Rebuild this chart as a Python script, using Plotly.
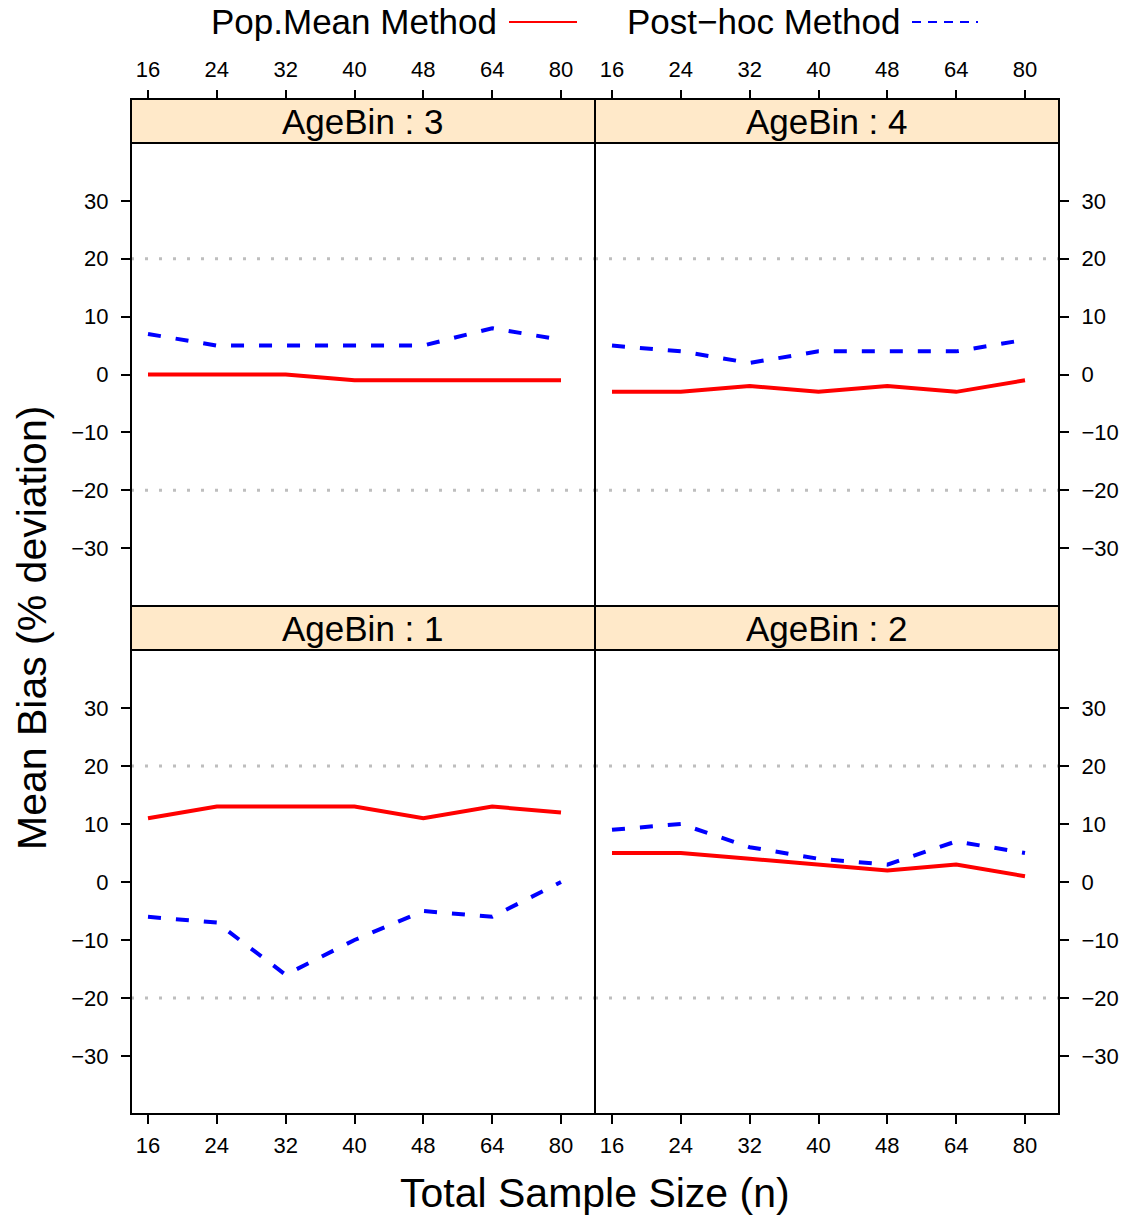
import plotly.graph_objects as go

# ---------------- data ----------------
sample_sizes = ["16", "24", "32", "40", "48", "64", "80"]
panels = ["AgeBin : 3", "AgeBin : 4", "AgeBin : 1", "AgeBin : 2"]

pop_mean_bin3 = [0, 0, 0, -1, -1, -1, -1]
posthoc_bin3 = [7, 5, 5, 5, 5, 8, 6]
pop_mean_bin4 = [-3, -3, -2, -3, -2, -3, -1]
posthoc_bin4 = [5, 4, 2, 4, 4, 4, 6]
pop_mean_bin1 = [11, 13, 13, 13, 11, 13, 12]
posthoc_bin1 = [-6, -7, -16, -10, -5, -6, 0]
pop_mean_bin2 = [5, 5, 4, 3, 2, 3, 1]
posthoc_bin2 = [9, 10, 6, 4, 3, 7, 5]

y_ticks = [-30, -20, -10, 0, 10, 20, 30]
ref_lines = [-20, 20]

# ---------------- layout helpers ----------------
W, H = 1130, 1219
FONT = "Liberation Sans, Arial, sans-serif"


def px(x):
    return x / W


def py(y):
    return 1 - y / H


col_x = [(131, 595), (595, 1059)]
row_y = [(143, 606), (650, 1114)]
strip_y = [(99, 143), (606, 650)]

pop_series = [pop_mean_bin3, pop_mean_bin4, pop_mean_bin1, pop_mean_bin2]
post_series = [posthoc_bin3, posthoc_bin4, posthoc_bin1, posthoc_bin2]

fig = go.Figure()
shapes = []
annotations = []

for i in range(4):
    r, c = divmod(i, 2)
    sfx = "" if i == 0 else str(i + 1)
    xa, ya = "x" + sfx, "y" + sfx
    fig.add_trace(go.Scatter(x=sample_sizes, y=pop_series[i], mode="lines",
                             line=dict(color="#FF0000", width=4),
                             xaxis=xa, yaxis=ya, showlegend=False))
    fig.add_trace(go.Scatter(x=sample_sizes, y=post_series[i], mode="lines",
                             line=dict(color="#0000FF", width=4, dash="13px,15px"),
                             xaxis=xa, yaxis=ya, showlegend=False))

    x0, x1 = col_x[c]
    y0, y1 = row_y[r]
    s0, s1 = strip_y[r]
    xdict = dict(domain=[px(x0), px(x1)], type="category",
                 range=[-0.247, 6.494], showgrid=False, zeroline=False,
                 showline=False, ticks="outside", ticklen=9, tickwidth=2,
                 tickcolor="black", tickfont=dict(family=FONT, size=22, color="black"))
    if r == 0:
        xdict.update(anchor="free", position=py(s0), side="top", ticklabelstandoff=4)
    else:
        xdict.update(anchor=ya, side="bottom", ticklabelstandoff=3)
    ydict = dict(domain=[py(y1), py(y0)], anchor=xa, range=[-40, 40],
                 tickvals=y_ticks, showgrid=False, zeroline=False, showline=False,
                 ticks="outside", ticklen=9, tickwidth=2, tickcolor="black",
                 tickfont=dict(family=FONT, size=22, color="black"),
                 side="left" if c == 0 else "right", ticklabelstandoff=8)
    fig.update_layout(**{("xaxis" + sfx): xdict, ("yaxis" + sfx): ydict})

    # dotted reference lines
    for v in ref_lines:
        shapes.append(dict(type="line", xref=xa + " domain", yref=ya,
                           x0=0, x1=1, y0=v, y1=v, layer="below",
                           line=dict(color="#BEBEBE", width=3, dash="3px,11px")))
    # panel border
    shapes.append(dict(type="rect", xref="paper", yref="paper",
                       x0=px(x0), x1=px(x1), y0=py(y1), y1=py(y0),
                       line=dict(color="black", width=2), layer="above"))
    # strip
    shapes.append(dict(type="rect", xref="paper", yref="paper",
                       x0=px(x0), x1=px(x1), y0=py(s1), y1=py(s0),
                       fillcolor="#FFE9C9",
                       line=dict(color="black", width=2), layer="above"))
    annotations.append(dict(text=panels[i], xref="paper", yref="paper",
                            x=px((x0 + x1) / 2), y=py((s0 + s1) / 2),
                            xanchor="center", yanchor="middle", showarrow=False,
                            font=dict(family=FONT, size=35, color="black")))

# legend (key on top)
annotations.append(dict(text="Pop.Mean Method", xref="paper", yref="paper",
                        x=px(209), y=py(22), xanchor="left", yanchor="middle",
                        showarrow=False, font=dict(family=FONT, size=35, color="black")))
annotations.append(dict(text="Post\u2212hoc Method", xref="paper", yref="paper",
                        x=px(625), y=py(22), xanchor="left", yanchor="middle",
                        showarrow=False, font=dict(family=FONT, size=35, color="black")))
shapes.append(dict(type="line", xref="paper", yref="paper",
                   x0=px(509), x1=px(577), y0=py(22), y1=py(22),
                   line=dict(color="#FF0000", width=2)))
shapes.append(dict(type="line", xref="paper", yref="paper",
                   x0=px(912), x1=px(978), y0=py(22), y1=py(22),
                   line=dict(color="#0000FF", width=2, dash="9px,7px")))

# axis titles
annotations.append(dict(text="Total Sample Size (n)", xref="paper", yref="paper",
                        x=px(595), y=py(1193), xanchor="center", yanchor="middle",
                        showarrow=False, font=dict(family=FONT, size=41, color="black")))
annotations.append(dict(text="Mean Bias (% deviation)", xref="paper", yref="paper",
                        x=px(32), y=py(628), xanchor="center", yanchor="middle",
                        textangle=-90, showarrow=False,
                        font=dict(family=FONT, size=41, color="black")))

fig.update_layout(width=W, height=H, autosize=False,
                  margin=dict(l=0, r=0, t=0, b=0),
                  paper_bgcolor="white", plot_bgcolor="white",
                  shapes=shapes, annotations=annotations,
                  font=dict(family=FONT, color="black"))

fig.write_html("out.html")
